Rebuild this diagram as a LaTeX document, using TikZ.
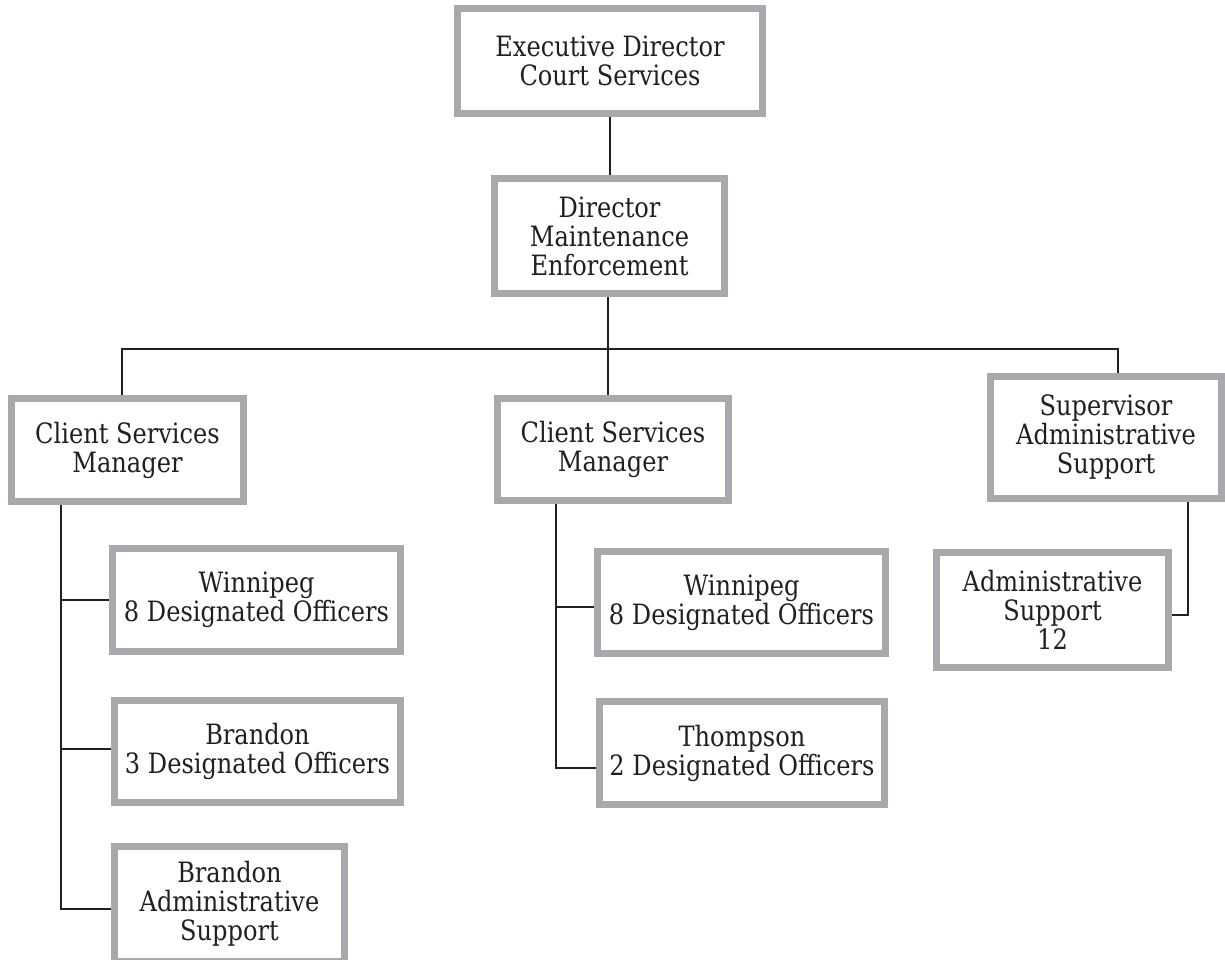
\documentclass[tikz,border=0pt]{standalone}
\usepackage{fontspec}
\newfontfamily\boxfont{DejaVu Serif}[FakeStretch=0.86]
\definecolor{boxgray}{HTML}{A7A9AC}
\definecolor{ink}{HTML}{231F20}
\tikzset{
  orgbox/.style={draw=boxgray, line width=7pt, outer sep=3.5pt, fill=white,
    inner sep=0pt, align=center, text=ink,
    font=\boxfont\fontsize{28}{29}\selectfont},
  link/.style={draw=ink, line width=2.2pt}
}
\begin{document}
\begin{tikzpicture}[x=1pt,y=-1pt]
\useasboundingbox (0,0) rectangle (1225,959);
% boxes: size = outer size - 7
\node[orgbox, minimum width=305, minimum height=105] (exec) at (610,61) {Executive Director\\Court Services};
\node[orgbox, minimum width=230, minimum height=115] (dir) at (609.5,236) {Director\\Maintenance\\Enforcement};
\node[orgbox, minimum width=232, minimum height=103] (csm1) at (127.5,450) {Client Services\\Manager};
\node[orgbox, minimum width=231, minimum height=102] (csm2) at (613,449.5) {Client Services\\Manager};
\node[orgbox, minimum width=231, minimum height=122] (sup) at (1106,437.5) {Supervisor\\Administrative\\Support};
\node[orgbox, minimum width=288, minimum height=103] (win1) at (256.5,600) {Winnipeg\\8 Designated Officers};
\node[orgbox, minimum width=286, minimum height=102] (bra3) at (257.5,751.5) {Brandon\\3 Designated Officers};
\node[orgbox, minimum width=230, minimum height=115] (braadm) at (229.5,904) {Brandon\\Administrative\\Support};
\node[orgbox, minimum width=288, minimum height=102] (win2) at (741.5,602.5) {Winnipeg\\8 Designated Officers};
\node[orgbox, minimum width=285, minimum height=103] (thom) at (742,753) {Thompson\\2 Designated Officers};
\node[orgbox, minimum width=232, minimum height=115] (adm12) at (1052.5,610) {Administrative\\Support\\12};
% bend points
\coordinate (busL) at (122,349);
\coordinate (busM) at (608,349);
\coordinate (busR) at (1118,349);
\coordinate (sp1) at (61,909);
\coordinate (sp2) at (556,768);
\coordinate (kn) at (1188,615);
% connectors
\draw[link] (exec.south) -- (exec.south |- dir.north);
\draw[link] (dir.south -| busM) -- (busM) -- (busM |- csm2.north);
\draw[link] (busL |- csm1.north) -- (busL) -- (busR) -- (busR |- sup.north);
\draw[link] (sp1 |- csm1.south) -- (sp1) -- (sp1 -| braadm.west);
\draw[link] (sp1 |- win1.west) -- (win1.west);
\draw[link] (sp1 |- 0,749) -- (bra3.west |- 0,749);
\draw[link] (sp2 |- csm2.south) -- (sp2) -- (sp2 -| thom.west);
\draw[link] (sp2 |- 0,607) -- (win2.west |- 0,607);
\draw[link] (kn |- sup.south) -- (kn) -- (kn -| adm12.east);
\end{tikzpicture}
\end{document}
